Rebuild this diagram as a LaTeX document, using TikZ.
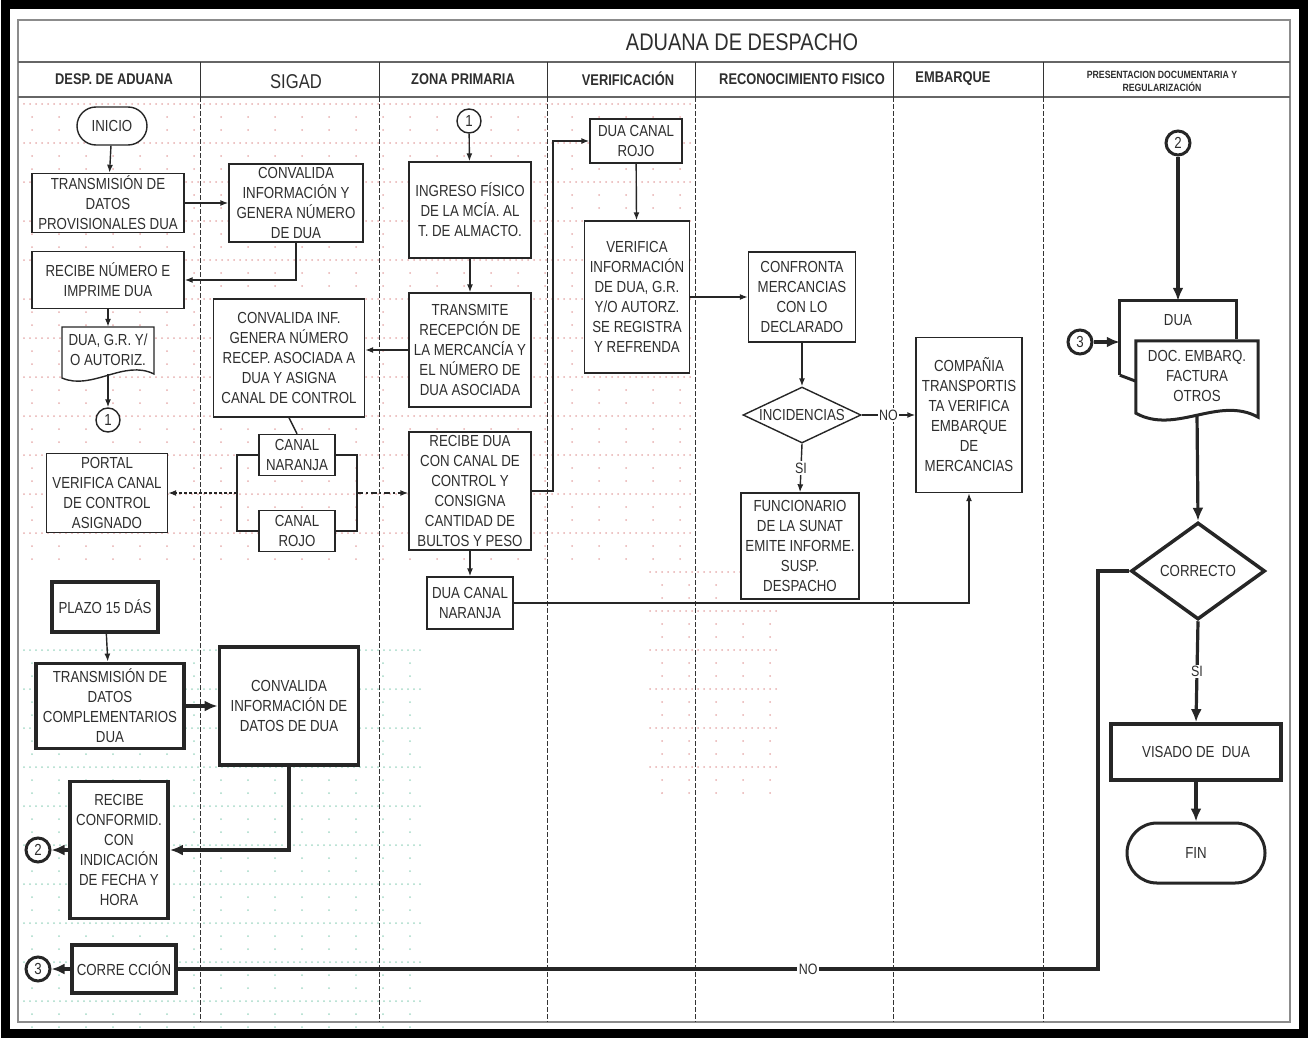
\documentclass[tikz,border=0pt]{standalone}
\usepackage{fontspec}
\setmainfont{Liberation Sans}[FakeStretch=0.83]
\usetikzlibrary{arrows.meta,shapes.geometric,shapes.misc,calc}
\definecolor{dotpink}{HTML}{E6AFAF}
\definecolor{dotgreen}{HTML}{A3D9C6}

\begin{document}
\begin{tikzpicture}[x=1pt,y=-1pt,
    every node/.style={text=black!82,font=\fontsize{16}{20}\selectfont,inner sep=0pt,align=center},
    ln/.style={draw=black!85,line width=1.4pt},
    thk/.style={draw=black!85,line width=3.8pt},
    box/.style 2 args={ln,fill=white,rectangle,minimum width=#1,minimum height=#2},
    tbox/.style 2 args={thk,fill=white,rectangle,minimum width=#1,minimum height=#2},
    doc/.style 2 args={rectangle,minimum width=#1,minimum height=#2},
    term/.style 2 args={rounded rectangle,fill=white,minimum width=#1,minimum height=#2},
    dec/.style 2 args={diamond,fill=white,minimum width=#1,minimum height=#2},
    conn/.style={ln,circle,fill=white,minimum size=24},
    tconn/.style={thk,line width=3pt,circle,fill=white,minimum size=24},
    arr/.style={ln,-{Latex[length=8pt,width=6pt]}},
    tarr/.style={thk,-{Latex[length=13pt,width=11pt]}},
    lbl/.style={fill=white,inner sep=1.5pt,font=\fontsize{15}{15}\selectfont},
    hdr/.style={font=\bfseries\fontsize{15.5}{18}\selectfont},
    lane/.style={draw=black!80,line width=0.9pt,dash pattern=on 5pt off 2pt}]
\useasboundingbox (0,0) rectangle (1308,1038);

% watermark dots
\foreach \y in {104,143,...,540} {
  \foreach \x in {24,30,...,690} \fill[dotpink] (\x,\y) circle (1);
  \foreach \x in {32,59,...,690} {\fill[dotpink] (\x,\y+13) circle (1); \fill[dotpink] (\x,\y+26) circle (1);}
}
\foreach \y in {572,611,...,800} {
  \foreach \x in {650,656,...,780} \fill[dotpink] (\x,\y) circle (1);
  \foreach \x in {662,689,...,780} {\fill[dotpink] (\x,\y+13) circle (1); \fill[dotpink] (\x,\y+26) circle (1);}
}
\foreach \y in {650,689,...,1020} {
  \foreach \x in {24,30,...,420} \fill[dotgreen] (\x,\y) circle (1);
  \foreach \x in {32,59,...,420} {\fill[dotgreen] (\x,\y+13) circle (1); \fill[dotgreen] (\x,\y+26) circle (1);}
}

\draw[draw=black,line width=9pt] (5,5) rectangle (1303,1033);
\draw[draw=black!45,line width=1.5pt] (18,20) rectangle (1290,1022);
\fill[white] (19,21) rectangle (1289,61);
\draw[draw=black!60,line width=1.2pt] (18,62) -- (1290,62) (18,97) -- (1290,97);
\foreach \x in {200,379,547,695,893,1043} {
  \draw[draw=black!80,line width=1pt] (\x,62) -- (\x,97);
  \draw[lane] (\x,97) -- (\x,1022);
}

\node[font=\fontsize{24}{24}\selectfont] (title) at (742,42) {ADUANA DE DESPACHO};
\node[hdr] (h1) at (114,79) {DESP. DE ADUANA};
\node[font=\fontsize{20}{20}\selectfont] (h2) at (296,82) {SIGAD};
\node[hdr] (h3) at (463,79) {ZONA PRIMARIA};
\node[hdr] (h4) at (628,79) {VERIFICACIÓN};
\node[hdr] (h5) at (802,79) {RECONOCIMIENTO FISICO};
\node[hdr] (h6) at (953,79) {EMBARQUE};
\node[font=\bfseries\fontsize{10.5}{13}\selectfont] (h7) at (1162,81) {PRESENTACION DOCUMENTARIA Y\\REGULARIZACIÓN};

% desp. de aduana
\node[ln,term={70}{38}] (inicio) at (112,126) {INICIO};
\node[box={152}{59}] (tprov) at (108,203) {TRANSMISIÓN DE\\DATOS\\PROVISIONALES DUA};
\node[box={152}{57}] (rnum) at (108,280) {RECIBE NÚMERO E\\IMPRIME DUA};
\coordinate (duapos) at (108,350);
\draw[ln,fill=white] ($(duapos)+(-46,-23)$) -- ($(duapos)+(46,-23)$) -- ($(duapos)+(46,24)$)
  .. controls ($(duapos)+(16,9)$) and ($(duapos)+(-16,41)$) .. ($(duapos)+(-46,28)$) -- cycle;
\node[doc={92}{46}] (duadoc) at (duapos) {DUA, G.R. Y/\\O AUTORIZ.};
\node[conn] (c1a) at (108,420) {1};
\node[box={121}{79}] (portal) at (107,493) {PORTAL\\VERIFICA CANAL\\DE CONTROL\\ASIGNADO};
\node[tbox={106}{50}] (plazo) at (105,607) {PLAZO 15 DÁS};
\node[tbox={148}{85}] (tcomp) at (110,706) {TRANSMISIÓN DE\\DATOS\\COMPLEMENTARIOS\\DUA};
\node[tbox={98}{137}] (rconf) at (119,850) {RECIBE\\CONFORMID.\\CON\\INDICACIÓN\\DE FECHA Y\\HORA};
\node[tbox={104}{48}] (corrc) at (124,969) {CORRE CCIÓN};
\node[tconn] (c2l) at (38,850) {2};
\node[tconn] (c3l) at (38,969) {3};

% sigad
\node[box={134}{78}] (cinfo) at (296,203) {CONVALIDA\\INFORMACIÓN Y\\GENERA NÚMERO\\DE DUA};
\node[box={151}{118}] (cinf2) at (289,358) {CONVALIDA INF.\\GENERA NÚMERO\\RECEP. ASOCIADA A\\DUA Y ASIGNA\\CANAL DE CONTROL};
\node[box={76}{41}] (cnar) at (297,455) {CANAL\\NARANJA};
\node[box={76}{41}] (crojo) at (297,531) {CANAL\\ROJO};
\coordinate (brl) at (237,493);
\coordinate (brr) at (357,493);
\node[tbox={139}{118}] (cdat) at (289,706) {CONVALIDA\\INFORMACIÓN DE\\DATOS DE DUA};

% zona primaria
\node[conn] (c1b) at (469,121) {1};
\node[box={122}{96}] (ingreso) at (470,210) {INGRESO FÍSICO\\DE LA MCÍA. AL\\T. DE ALMACTO.};
\node[box={122}{114}] (transm) at (470,350) {TRANSMITE\\RECEPCIÓN DE\\LA MERCANCÍA Y\\EL NÚMERO DE\\DUA ASOCIADA};
\node[box={122}{118}] (recibe) at (470,491) {RECIBE DUA\\CON CANAL DE\\CONTROL Y\\CONSIGNA\\CANTIDAD DE\\BULTOS Y PESO};
\node[box={86}{52}] (dnar) at (470,603) {DUA CANAL\\NARANJA};
\coordinate (jr) at (553,141);

% verificacion
\node[box={92}{44}] (drojo) at (636,141) {DUA CANAL\\ROJO};
\node[box={105}{152}] (verif) at (637,297) {VERIFICA\\INFORMACIÓN\\DE DUA, G.R.\\Y/O AUTORZ.\\SE REGISTRA\\Y REFRENDA};

% reconocimiento fisico
\node[box={107}{90}] (confr) at (802,297) {CONFRONTA\\MERCANCIAS\\CON LO\\DECLARADO};
\node[ln,dec={118}{56}] (inc) at (802,415) {\makebox[0pt]{INCIDENCIAS}};
\node[box={118}{106}] (func) at (800,546) {FUNCIONARIO\\DE LA SUNAT\\EMITE INFORME.\\SUSP.\\DESPACHO};

% embarque
\node[box={106}{155}] (comp) at (969,415) {COMPAÑIA\\TRANSPORTIS\\TA VERIFICA\\EMBARQUE\\DE\\MERCANCIAS};

% presentacion documentaria
\node[tconn] (c2r) at (1178,143) {2};
\node[doc={116}{38}] (dua2) at (1178,320) {DUA};
\draw[thk,line width=3pt] ($(dua2.south west)+(0,36)$) -- (dua2.north west) -- (dua2.north east) -- (dua2.south east);
\draw[thk,line width=3pt] ($(dua2.south west)+(0,36)$) -- ++(16,6);
\node[doc={122}{70}] (mdoc) at (1197,376) {DOC. EMBARQ.\\FACTURA\\OTROS};
\draw[thk,line width=3pt] (mdoc.north west) -- (mdoc.north east) -- ($(mdoc.south east)+(0,6)$)
  .. controls ($(mdoc.south east)+(-40,-16)$) and ($(mdoc.south west)+(40,24)$) .. ($(mdoc.south west)+(0,2)$) -- cycle;
\node[tconn] (c3r) at (1080,342) {3};
\node[thk,line width=3.5pt,dec={134}{97}] (corr) at (1198,571) {CORRECTO};
\node[tbox={170}{56}] (visado) at (1196,752) {VISADO DE \ DUA};
\node[thk,line width=3pt,term={138}{60}] (fin) at (1196,853) {FIN};
\coordinate (jn) at (1098,969);

% connectors
\draw[arr] (inicio) -- (tprov);
\draw[arr] (tprov.east) -- (tprov.east -| cinfo.west);
\draw[arr] (cinfo.south) |- (rnum.east);
\draw[arr] (rnum) -- (duadoc);
\draw[arr] ($(duadoc.south)+(0,1)$) -- (c1a);
\draw[ln] (cinf2.south) -- (cnar.north);
\draw[ln] (cnar.west) -| (brl) |- (crojo.west);
\draw[ln] (cnar.east) -| (brr) |- (crojo.east);
\draw[arr,dash pattern=on 3pt off 2pt] (brl) -- (portal.east);
\draw[arr,dash pattern=on 6pt off 3pt on 1.5pt off 3pt] (brr) -- (brr -| recibe.west);
\draw[arr] (c1b) -- (ingreso);
\draw[arr] (ingreso) -- (transm);
\draw[arr] (transm.west) -- (transm.west -| cinf2.east);
\draw[arr] (recibe) -- (dnar);
\draw[arr] (recibe.east) -| (jr) |- (drojo.west);
\draw[arr] (drojo) -- (verif);
\draw[arr] (verif.east) -- (confr.west);
\draw[arr] (confr) -- (inc);
\draw[arr] (inc.south) -- node[lbl]{SI} (func.north);
\draw[arr] (inc.east) -- node[lbl]{NO} (comp.west |- inc.east);
\draw[arr] (dnar.east) -| (comp.south);

\draw[arr] (plazo) -- (tcomp);
\draw[tarr] (tcomp.east) -- (tcomp.east -| cdat.west);
\draw[tarr] (cdat.south) |- (rconf.east);
\draw[tarr] (rconf.west) -- (c2l.east);
\draw[tarr] (corrc.west) -- (c3l.east);

\draw[tarr,line width=3.2pt] (c2r.south) -- (dua2.north);
\draw[tarr,line width=3.2pt] (c3r.east) -- (c3r.east -| dua2.west);
\draw[tarr,line width=3.2pt] ($(mdoc.south)+(0,3)$) -- (corr.north);
\draw[tarr,line width=3.2pt] (corr.south) -- node[lbl]{SI} (visado.north);
\draw[tarr,line width=3.2pt] (visado.south) -- (fin.north);
\draw[thk] (corr.west) -| (jn) -- node[lbl,pos=0.315]{NO} (corrc.east);
\end{tikzpicture}
\end{document}
